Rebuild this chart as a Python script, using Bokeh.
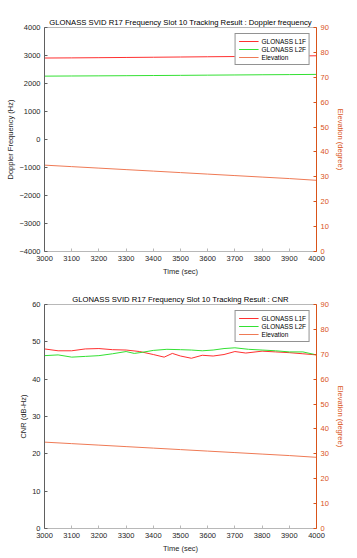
import math
from bokeh.plotting import figure
from bokeh.models import LinearAxis, Range1d, FixedTicker, Legend, LegendItem
from bokeh.layouts import column
from bokeh.embed import file_html
from bokeh.resources import INLINE

FONT = "Liberation Sans"
AX = "#262626"
XAXIS_LINE = "#b8b8b8"
ORANGE = "#D95319"
RED = "#ff3030"
GREEN = "#33e033"
ELEV = "#ef7a55"

# ---------------- data ----------------
x_ticks = [3000, 3100, 3200, 3300, 3400, 3500, 3600, 3700, 3800, 3900, 4000]
elev_ticks = [0, 10, 20, 30, 40, 50, 60, 70, 80, 90]
doppler_ticks = [-4000, -3000, -2000, -1000, 0, 1000, 2000, 3000, 4000]
cnr_ticks = [0, 10, 20, 30, 40, 50, 60]

time_dop = [3000, 3100, 3200, 3300, 3400, 3500, 3600, 3700, 3800, 3900, 4000]
l1f_doppler = [2910, 2915, 2922, 2930, 2938, 2946, 2955, 2963, 2972, 2980, 2990]
l2f_doppler = [2263, 2268, 2273, 2279, 2285, 2291, 2298, 2305, 2312, 2318, 2325]

time_elev = [3000, 3100, 3200, 3300, 3400, 3500, 3600, 3700, 3800, 3900, 4000]
elevation = [34.7, 34.1, 33.5, 32.9, 32.3, 31.7, 31.1, 30.5, 29.9, 29.3, 28.6]

time_l1f = [3000, 3050, 3100, 3150, 3200, 3250, 3300, 3350, 3400, 3440, 3470, 3500,
            3540, 3580, 3620, 3660, 3700, 3740, 3800, 3850, 3900, 3950, 4000]
l1f_cnr = [48.1, 47.6, 47.6, 48.1, 48.2, 47.9, 47.8, 47.4, 46.6, 45.9, 46.9, 46.2,
           45.6, 46.4, 46.2, 46.6, 47.4, 47.0, 47.5, 47.3, 47.1, 46.8, 46.5]

time_l2f = [3000, 3050, 3100, 3150, 3200, 3250, 3300, 3330, 3360, 3400, 3450, 3500,
            3540, 3580, 3620, 3660, 3700, 3750, 3800, 3850, 3900, 3950, 4000]
l2f_cnr = [46.3, 46.5, 45.9, 46.1, 46.3, 46.8, 47.4, 46.9, 47.2, 47.7, 48.0, 47.9,
           47.8, 47.6, 47.8, 48.2, 48.4, 48.0, 47.8, 47.6, 47.3, 47.3, 46.5]


def style_axis(ax, color, ticks, line_color=None):
    ax.ticker = FixedTicker(ticks=ticks)
    ax.minor_tick_line_color = None
    ax.major_tick_in = 3
    ax.major_tick_out = 0
    ax.axis_line_color = line_color or color
    ax.major_tick_line_color = line_color or color
    ax.major_label_text_color = color
    ax.axis_label_text_color = color
    ax.major_label_text_font = FONT
    ax.axis_label_text_font = FONT
    ax.major_label_text_font_size = "7.5px"
    ax.axis_label_text_font_size = "7.5px"
    ax.axis_label_text_font_style = "normal"
    ax.major_label_standoff = 4
    ax.axis_label_standoff = 3


def build(title, ylabel, yr, yticks, t1, y1, t2, y2, height, top, bottom, left, right):
    p = figure(width=357, height=height, output_backend="svg", toolbar_location=None,
               x_range=Range1d(3000, 4000), y_range=Range1d(*yr),
               min_border_top=top, min_border_bottom=bottom,
               min_border_left=left, min_border_right=right)
    p.extra_y_ranges = {"elev": Range1d(0, 90)}
    p.xgrid.visible = False
    p.ygrid.visible = False
    p.outline_line_color = XAXIS_LINE
    p.outline_line_width = 1
    p.background_fill_color = "white"
    p.border_fill_color = "white"

    p.title.text = title
    p.title.text_font = FONT
    p.title.text_font_size = "7.7px"
    p.title.text_font_style = "normal"
    p.title.text_color = "black"
    p.title.align = "center"
    p.title.standoff = 2

    style_axis(p.xaxis[0], AX, x_ticks, line_color=XAXIS_LINE)
    p.xaxis[0].axis_label = "Time (sec)"
    style_axis(p.yaxis[0], AX, yticks, line_color="#606060")
    p.yaxis[0].axis_label = ylabel
    p.yaxis[0].axis_label_standoff = 1

    right_ax = LinearAxis(y_range_name="elev", axis_label="Elevation (degree)")
    style_axis(right_ax, ORANGE, elev_ticks)
    right_ax.axis_label_orientation = "parallel"
    right_ax.axis_label_standoff = 4
    p.add_layout(right_ax, "right")

    r1 = p.line(t1, y1, line_color=RED, line_width=1)
    r2 = p.line(t2, y2, line_color=GREEN, line_width=1)
    r3 = p.line(time_elev, elevation, line_color=ELEV, line_width=1, y_range_name="elev")

    leg = Legend(items=[LegendItem(label="GLONASS L1F", renderers=[r1]),
                        LegendItem(label="GLONASS L2F", renderers=[r2]),
                        LegendItem(label="Elevation", renderers=[r3])],
                 location="top_right")
    leg.margin = 6
    leg.padding = 3
    leg.spacing = 0
    leg.glyph_width = 20
    leg.glyph_height = 8
    leg.label_height = 8
    leg.label_standoff = 3
    leg.label_text_font = FONT
    leg.label_text_font_size = "6.5px"
    leg.label_text_color = "black"
    leg.border_line_color = AX
    leg.border_line_width = 1
    leg.background_fill_alpha = 1
    p.add_layout(leg)
    return p


p1 = build("GLONASS SVID R17 Frequency Slot 10 Tracking Result : Doppler frequency",
           "Doppler Frequency (Hz)", (-4000, 4000), doppler_ticks,
           time_dop, l1f_doppler, time_dop, l2f_doppler,
           height=279, top=27, bottom=28, left=44, right=38)
p2 = build("GLONASS SVID R17 Frequency Slot 10 Tracking Result : CNR",
           "CNR (dB-Hz)", (0, 60), cnr_ticks,
           time_l1f, l1f_cnr, time_l2f, l2f_cnr,
           height=279, top=25, bottom=30, left=43, right=41)

layout = column(p1, p2, spacing=0)
open("out.html", "w").write(file_html(layout, INLINE))
